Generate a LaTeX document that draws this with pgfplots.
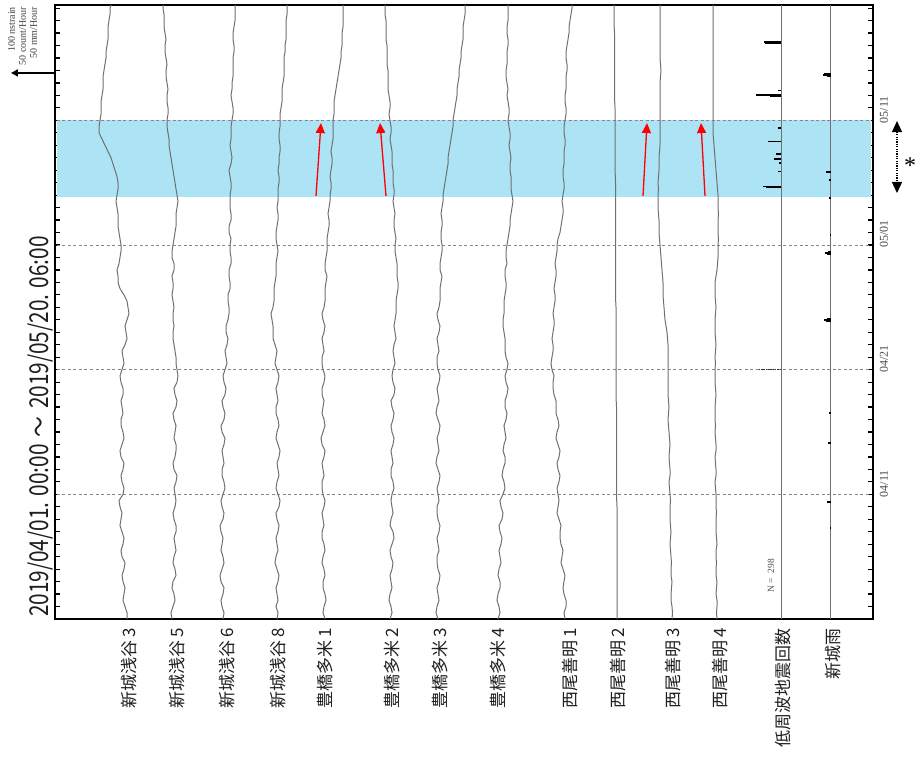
\documentclass[border=0pt]{standalone}
\usepackage{graphicx}
\usepackage{pgfplots}
\pgfplotsset{compat=1.18}
\usepackage{pgfplotstable}
\usepackage{fontspec}
\usetikzlibrary{arrows.meta}
\newfontfamily\jp{Noto Sans CJK JP}
\newfontfamily\tms{Liberation Serif}
\definecolor{trace}{RGB}{112,112,112}
\definecolor{band}{RGB}{172,227,245}
\definecolor{gridc}{RGB}{135,135,135}

% strain traces: day since 2019/04/01 00:00, horizontal position of each trace
\pgfplotstableread{
d t1 t2 t3 t4 t5 t6 t7 t8 t9 t10 t11 t12
0 127 172 223 277 325 390 438 498 565 617 672 717
0.5 127 171 224 278 323 392 436 500 564 617 672.5 716.5
1 125 173 222 276 324 391 437 499 566 617 672 717
1.5 123 175 221 278 326 389 439 497 566 617 671 717
2 124 174 223 277 325 390 438 498 564 617 671 716
2.5 125 172 224 276 323 392 437 500 563 617 671.5 716.5
3 123 173 221 278 323 391 439 500 564 617 672 717
3.5 122 176 220 279 325 390 440 498 565 617 671 716
4 124 175 222 277 324 392 438 499 563 617 671 716
4.5 125 173 224 275 322 393 437 501 561 617 671.5 716.5
5 122 174 223 276 323 391 437 500 562 617 671 716
5.5 121 176 221 278 325 390 439 499 563 617 670.5 716
6 123 175 222 277 324 392 438 501 561 617 670 717
6.5 124 174 223 276 322 394 437 502 560 617 670.5 716.5
7 122 176 221 278 322 393 439 500 560 617 671 716
7.5 120 176 220 279 324 390 440 499 561 617 670.5 716
8 121 174 223 277 323 391 438 502 559 617 670 716
8.5 122 173 224 276 322 393 437 503 557 617 670 716.5
9 120 175 222 279 324 392 437 501 558 617 670 716
9.5 119 176 221 280 325 391 439 500 559 616.7 670.5 716
10 123 175 223 278 323 392 438 503 558 616.5 670 716
10.5 124 174 225 276 322 394 437 505 557 616.5 669.5 715.5
11 122 176 224 277 322 393 439 504 559 616.5 669 715
11.5 121 177 222 279 324 391 440 502 560 616.5 670 716
12 123 174 222 278 323 391 438 503 558 616.5 670 716
12.5 124 173 224 277 322 393 436 505 557 616.5 669.5 715.5
13 121 175 223 279 324 392 437 505 559 616.5 669 715
13.5 120 176 222 280 325 391 439 503 560 616.5 669.5 716
14 122 176 224 278 322 393 438 504 558 616.5 670 716
14.5 124 174 225 276 321 394 437 506 556 616.5 669.5 715.5
15 123 175 222 277 323 392 439 505 557 616.5 669 715
15.5 121 176 221 279 325 391 440 504 559 616.5 668.5 715.5
16 121 174 224 278 324 393 438 506 558 616.5 668 715
16.5 123 173 225 276 322 394 436 507 556 616.5 668.5 715
17 122 176 223 276 323 392 437 505 556 616.5 669 715
17.5 121 177 222 278 324 391 439 505 556 616.2 668.5 715.5
18 123 175 225 277 322 394 438 507 554 616 668 716
18.5 123 174 226 276 322 395 437 508 553 616 668 715.5
19 121 177 224 278 324 393 439 506 553 616 668 715
19.5 120 178 223 279 325 392 440 505 554 616 668 715
20 122 177 225 277 323 393 438 507 552 616 668 715
20.5 124 176 227 275 322 395 437 508 551 616 668 715.5
21 123 176 226 276 322 394 437 506 552 616 668 715
21.5 122 175 225 277 324 393 439 505 553 616 668 715.5
22 125 174 227 275 323 394 438 505 553 616 668 716
22.5 127 173 228 273 322 396 437 505 552 616 667.5 715.5
23 126 173 226 273 324 395 439 504 553 616 667 715
23.5 125 174 226 273 325 394 440 503 554 616 666 715
24 127 173 228 272 323 395 438 503 554 616 665 715
24.5 129 173 229 271 322 396 437 504 553 616 664.5 715.5
25 128 174 229 273 324 396 439 504 554 616 664 716
25.5 127 173 228 274 325 396 440 504 555 615.7 663.5 715.5
26 124 172 228 274 325 397 440 505 555 615.5 663 715
26.5 120 173 230 274 325 398 440 506 554 615.5 663 715
27 118 173 230 275 326 398 441 506 555 615.5 663 715
27.5 118 172 229 276 327 397 442 505 556 615.5 662.5 716
28 117 174 229 276 325 397 440 505 556 615.5 662 717
28.5 119 174 231 276 325 397 440 507 555 615.5 661.5 717.5
29 120 172 231 277 326 396 441 506 556 615.5 661 718
29.5 121 172 230 278 327 395 442 506 557 615.5 660.5 718
30 121 173 230 277 327 395 442 507 557 615.5 660 718
30.5 120 174 231 276 327 396 441 508 558 615.5 659.5 718.5
31 119 175 229 276 328 395 441 509 560 615.5 659 718
31.5 118 176 229 277 329 394 442 510 561 615.5 659 718
32 118 176 231 278 329 394 442 510 562 615.5 659 718
32.5 118 176 231 278 328 395 441 511 563 615.5 658.5 718.5
33 117 177 230 277 329 394 442 512 563 615.5 658 718
33.5 116 178 230 278 330 393 443 513 562 615.5 658 718
34 117 177 230 278 330 394 443 512 563 615.5 658 718
34.5 118 176 231 278 331 394 444 511 564 615.5 658.5 717.5
35 118 175 231 279 331 393 445 511 564 615.5 658 717
35.5 117 174 230 279 330 393 446 511 563 615.3 658.5 716.5
36 115 173 229 278 331 393 447 510 563 615 659 716
36.5 113 172 231 279 332 392 448 510 564 615 659 715.5
37 111 171 232 279 332 392 448 511 564 615 659 715
37.5 108 170 231 280 331 392 449 510 564 615 659.5 714.5
38 105 169 230 280 332 391 450 509 565 615 660 714
38.5 102 169 231 279 333 390 451 510 565 615 660 713.5
39 99 168 231 279 333 391 452 510 564 615 660 713
39.5 99 167 231 280 333 391 453 509 564 615 660 713
40 100 167 232 280 333 390 453 508 565 615 660 713
40.5 101 168 233 280 334 389 454 509 566 615 660 713
41 101 168 233 281 334 390 455 509 566 615 660 713
41.5 101 167 232 282 334 390 456 508 565 614.7 660 713
42 102 167 231 282 335 389 457 507 565 614.5 660 713
42.5 103 168 232 282 336 388 457 508 566 614.5 660 713
43 103 167 232 283 337 388 458 507 566 614.5 660 713
43.5 103 166 233 284 338 388 459 506 566 614.5 660.5 713
44 104 166 233 284 339 388 459 506 567 614.5 661 713
44.5 105 167 233 284 340 387 460 507 567 614.5 660.5 713
45 106 166 233 284 341 387 461 507 566 614.5 660 713
45.5 106 165 234 285 341 387 461 507 566 614.5 660 713
46 107 165 234 285 342 387 462 508 567 614.5 660 713
46.5 108 166 233 286 342 386 463 508 568 614.5 660 713
47 108 165 233 286 342 386 463 507 569 614.5 660 713
47.5 108 164 234 286 343 386 463 507 569 614.2 660 713
48 109 164 235 286 343 386 464 508 570 614 660 713
48.5 110 164 235 287 343 385 465 508 571 614 660 713
49 110 163 235 287 343 385 465 508 572 614 660 713
49.25 111 163 235 287 343 385 465 508 572 614 660 713
}\strain

% low-frequency tremor counts: bar end position per event (baseline 781)
\pgfplotstableread{
x y
781 46.30
764 46.30
nan nan
781 46.22
765 46.22
nan nan
781 42.40
778 42.40
nan nan
781 42.02
756 42.02
nan nan
781 41.95
770 41.95
nan nan
781 39.40
778 39.40
nan nan
781 38.30
768 38.30
nan nan
781 37.30
776 37.30
nan nan
781 36.90
774 36.90
nan nan
781 36.60
779 36.60
nan nan
781 35.90
778 35.90
nan nan
781 34.70
763 34.70
nan nan
781 34.62
766 34.62
}\tremor

% hourly rainfall at Shinshiro (baseline 830.7)
\pgfplotstableread{
x y
830.7 43.72
824 43.72
nan nan
830.7 43.64
823 43.64
nan nan
830.7 43.56
827 43.56
nan nan
830.7 35.85
826 35.85
nan nan
830.7 35.20
828.5 35.20
nan nan
830.7 33.77
828.5 33.77
nan nan
830.7 30.80
829.5 30.80
nan nan
830.7 29.45
828 29.45
nan nan
830.7 29.38
825 29.38
nan nan
830.7 29.30
827 29.30
nan nan
830.7 24.05
827 24.05
nan nan
830.7 23.98
824 23.98
nan nan
830.7 23.90
826 23.90
nan nan
830.7 16.50
828.5 16.50
nan nan
830.7 14.10
827.5 14.10
nan nan
830.7 9.40
827 9.40
nan nan
830.7 7.30
829.5 7.30
}\rain

\begin{document}
\begin{tikzpicture}
\useasboundingbox (0pt,0pt) rectangle (918pt,756pt);
\begin{axis}[
  at={(55pt,137pt)}, anchor=south west,
  width=818pt, height=614pt, scale only axis,
  xmin=55, xmax=873, ymin=0, ymax=49.25,
  clip=false,
  axis line style={line width=1.8pt, black},
  xtick={129,177,227,278,325,392,440,498,570,618,673,720,783,833},
  xticklabels={新城浅谷\,3,新城浅谷\,5,新城浅谷\,6,新城浅谷\,8,豊橋多米\,1,豊橋多米\,2,豊橋多米\,3,豊橋多米\,4,西尾善明\,1,西尾善明\,2,西尾善明\,3,西尾善明\,4,低周波地震回数,新城雨},
  xtick style={draw=none},
  xticklabel style={rotate=90, anchor=east, font=\jp\fontsize{17}{18}\selectfont, text=black!88},
  xticklabel shift=6pt,
  ytick={0,1,...,49}, yticklabels={},
  ytick style={line width=1.2pt, black},
  tick align=inside,
  major tick length=5pt,
  unbounded coords=jump,
]
% period of interest
\addplot[draw=none, fill=band] coordinates {(57,33.86) (871,33.86) (871,40) (57,40)} -- cycle;

% date lines every 10 days
\foreach \dd in {10,20,30,40}{
  \edef\tmp{\noexpand\addplot[gridc, dashed, line width=0.8pt, dash pattern=on 3pt off 2.5pt] coordinates {(57,\dd) (871,\dd)};}
  \tmp
}

% strain traces
\addplot[trace, line width=1pt] table[x=t1, y=d]{\strain};
\addplot[trace, line width=1pt] table[x=t2, y=d]{\strain};
\addplot[trace, line width=1pt] table[x=t3, y=d]{\strain};
\addplot[trace, line width=1pt] table[x=t4, y=d]{\strain};
\addplot[trace, line width=1pt] table[x=t5, y=d]{\strain};
\addplot[trace, line width=1pt] table[x=t6, y=d]{\strain};
\addplot[trace, line width=1pt] table[x=t7, y=d]{\strain};
\addplot[trace, line width=1pt] table[x=t8, y=d]{\strain};
\addplot[trace, line width=1pt] table[x=t9, y=d]{\strain};
\addplot[trace, line width=1pt] table[x=t10, y=d]{\strain};
\addplot[trace, line width=1pt] table[x=t11, y=d]{\strain};
\addplot[trace, line width=1pt] table[x=t12, y=d]{\strain};

% tremor count and rainfall baselines
\addplot[trace, line width=1pt] coordinates {(781,0) (781,49.25)};
\addplot[trace, line width=1pt] coordinates {(830.7,0) (830.7,49.25)};
\addplot[black, line width=1.6pt] table{\tremor};
\addplot[black!80, line width=1pt, dash pattern=on 1.5pt off 0.8pt] coordinates {(781,20.05) (759,20.05)};
\addplot[black, line width=1.6pt] table{\rain};

% red arrows marking the strain changes
\addplot[red, line width=1.3pt, -{Triangle[width=9pt,length=10pt]}] coordinates {(316,33.93) (321,39.78)};
\addplot[red, line width=1.3pt, -{Triangle[width=9pt,length=10pt]}] coordinates {(386,33.93) (380,39.78)};
\addplot[red, line width=1.3pt, -{Triangle[width=9pt,length=10pt]}] coordinates {(643,33.93) (647,39.78)};
\addplot[red, line width=1.3pt, -{Triangle[width=9pt,length=10pt]}] coordinates {(705,33.93) (701,39.78)};

% period marker on the right
\draw[black, line width=1.4pt, dash pattern=on 1.2pt off 1.2pt, {Triangle[width=10pt,length=11pt]}-{Triangle[width=10pt,length=11pt]}] (axis cs:897,39.94) -- (axis cs:897,34.17);
\node[font=\tms\fontsize{24}{24}\selectfont, inner sep=0] at (axis cs:910,36.4) {*};

% date labels
\node[rotate=90, anchor=west, inner sep=0, font=\tms\fontsize{12}{12}\selectfont, text=black!70] at (axis cs:884,39.76) {05/11};
\node[rotate=90, anchor=west, inner sep=0, font=\tms\fontsize{12}{12}\selectfont, text=black!70] at (axis cs:884,29.76) {05/01};
\node[rotate=90, anchor=west, inner sep=0, font=\tms\fontsize{12}{12}\selectfont, text=black!70] at (axis cs:884,19.76) {04/21};
\node[rotate=90, anchor=west, inner sep=0, font=\tms\fontsize{12}{12}\selectfont, text=black!70] at (axis cs:884,9.76) {04/11};

% period title
\node[rotate=90, anchor=west, inner sep=0, font=\jp\fontsize{26}{26}\selectfont, text=black!88] at (axis cs:41,0.15) {\scalebox{0.8}[1]{2019/04/01. 00:00\hspace{0.35em}～\hspace{0.35em}2019/05/20. 06:00}};

% scale bar
\draw[black, line width=2pt, -{Triangle[width=7pt,length=7pt]}] (axis cs:56,43.8) -- (axis cs:11,43.8);
\node[rotate=90, anchor=north east, inner sep=0, align=right, font=\tms\fontsize{10}{11}\selectfont, text=black!75] at (axis cs:8,49.1) {100 nstrain\\50 count/Hour\\50 mm/Hour};

% event total
\node[rotate=90, anchor=west, inner sep=0, font=\tms\fontsize{9.5}{10}\selectfont, text=black!70] at (axis cs:771,2.1) {N =\ \ 298};
\end{axis}
\end{tikzpicture}
\end{document}
